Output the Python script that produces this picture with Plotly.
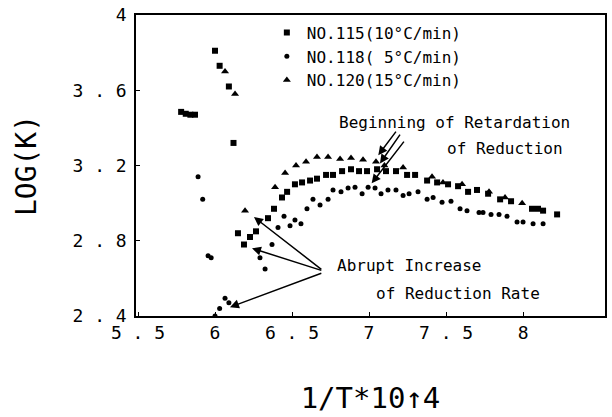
import plotly.graph_objects as go

# ---------------- data ----------------
x_no115 = [6.00, 6.03, 6.09, 5.78, 5.81, 5.84, 5.87, 6.12,
           6.149, 6.188, 6.227, 6.266, 6.344, 6.383, 6.435, 6.468, 6.519, 6.565,
           6.617, 6.662, 6.721, 6.766, 6.825, 6.883, 6.935, 6.987, 7.052, 7.110,
           7.175, 7.247, 7.299, 7.377, 7.442, 7.513, 7.578, 7.643, 7.701, 7.773,
           7.851, 7.922, 8.058, 8.097, 8.130, 8.221]
y_no115 = [3.81, 3.73, 3.62, 3.485, 3.475, 3.47, 3.47, 3.32,
           2.84, 2.78, 2.82, 2.85, 2.92, 2.97, 3.03, 3.06, 3.10, 3.11,
           3.12, 3.13, 3.15, 3.15, 3.17, 3.18, 3.17, 3.17, 3.18, 3.17,
           3.17, 3.15, 3.15, 3.12, 3.11, 3.10, 3.09, 3.06, 3.07, 3.05,
           3.02, 3.01, 2.97, 2.97, 2.96, 2.94]

x_no118 = [5.89, 5.92, 5.955, 5.975, 6.00, 6.03, 6.065, 6.09,
           6.292, 6.325, 6.37, 6.409, 6.448, 6.487, 6.519, 6.558, 6.597, 6.636,
           6.682, 6.734, 6.766, 6.818, 6.864, 6.909, 6.955, 6.994, 7.039, 7.078,
           7.123, 7.175, 7.221, 7.26, 7.318, 7.377, 7.416, 7.474, 7.532, 7.591,
           7.636, 7.714, 7.74, 7.792, 7.844, 7.896, 7.961, 8.0, 8.065, 8.13]
y_no118 = [3.14, 3.02, 2.72, 2.71, 2.40, 2.44, 2.495, 2.47,
           2.71, 2.65, 2.78, 2.87, 2.93, 2.88, 2.91, 2.89, 2.97, 3.02,
           2.99, 3.02, 3.07, 3.06, 3.08, 3.085, 3.05, 3.085, 3.08, 3.05,
           3.07, 3.07, 3.04, 3.05, 3.06, 3.02, 3.03, 3.005, 3.01, 2.97,
           2.96, 2.95, 2.95, 2.94, 2.94, 2.93, 2.90, 2.90, 2.89, 2.89]

x_no120 = [6.065, 6.13, 6.195, 6.39, 6.455, 6.526, 6.591, 6.662, 6.734, 6.812,
           6.883, 6.961, 7.045, 7.10, 7.221, 7.409, 7.48, 7.604, 7.779, 7.883, 7.994]
y_no120 = [3.70, 3.58, 2.96, 3.085, 3.16, 3.20, 3.22, 3.245, 3.245, 3.235,
           3.24, 3.23, 3.22, 3.20, 3.19, 3.14, 3.11, 3.10, 3.06, 3.03, 3.00]

series_names = ["NO.115(10°C/min)", "NO.118( 5°C/min)", "NO.120(15°C/min)"]

x_tickvals = [5.5, 6, 6.5, 7, 7.5, 8]
x_ticktext = ["5 . 5", "6", "6 . 5", "7", "7 . 5", "8"]
y_tickvals = [2.4, 2.8, 3.2, 3.6, 4.0]
y_ticktext = ["2 . 4", "2 . 8", "3 . 2", "3 . 6", "4"]

# annotation arrows: (head_x, head_y, tail_x, tail_y)
abrupt_arrows = [(6.253, 2.926, 6.70, 2.642),
                 (6.240, 2.760, 6.70, 2.640),
                 (6.097, 2.447, 6.70, 2.630)]
retard_arrows = [(7.060, 3.255, 7.182, 3.388),
                 (7.071, 3.211, 7.208, 3.372),
                 (7.017, 3.105, 7.234, 3.335)]

FONT = "DejaVu Sans Mono"

fig = go.Figure()
fig.add_trace(go.Scatter(x=x_no115, y=y_no115, mode="markers", name=series_names[0],
                         marker=dict(symbol="square", size=6, color="black")))
fig.add_trace(go.Scatter(x=x_no118, y=y_no118, mode="markers", name=series_names[1],
                         marker=dict(symbol="circle", size=5, color="black")))
fig.add_trace(go.Scatter(x=x_no120, y=y_no120, mode="markers", name=series_names[2],
                         marker=dict(symbol="triangle-up", size=7, color="black")))

for hx, hy, tx, ty in abrupt_arrows + retard_arrows:
    fig.add_annotation(x=hx, y=hy, ax=tx, ay=ty, xref="x", yref="y", axref="x", ayref="y",
                       text="", showarrow=True, arrowhead=2, arrowsize=1.2,
                       arrowwidth=1.5, arrowcolor="black", standoff=0, startstandoff=0)

texts = [("Beginning of Retardation", 6.792, 3.431),
         ("of Reduction", 7.494, 3.293),
         ("Abrupt Increase", 6.779, 2.670),
         ("of Reduction Rate", 7.030, 2.521)]
for t, tx, ty in texts:
    fig.add_annotation(x=tx, y=ty, xref="x", yref="y", text=t, showarrow=False,
                       xanchor="left", yanchor="middle",
                       font=dict(family=FONT, size=16, color="black"))

fig.update_layout(
    template="none",
    width=612, height=417,
    margin=dict(l=136, r=7, t=15, b=101),
    paper_bgcolor="white", plot_bgcolor="white",
    font=dict(family=FONT, color="black"),
    showlegend=True,
    legend=dict(x=0.279, y=0.998, xanchor="left", yanchor="top",
                bgcolor="rgba(0,0,0,0)", font=dict(family=FONT, size=16),
                tracegroupgap=0, itemsizing="trace"),
)
fig.update_xaxes(range=[5.487, 8.532], showline=True, mirror=True, linewidth=1.5,
                 linecolor="black", showgrid=False, zeroline=False, automargin=False,
                 ticks="inside", ticklen=4, tickcolor="black", ticklabeloverflow="allow",
                 tickvals=x_tickvals, ticktext=x_ticktext,
                 tickfont=dict(family=FONT, size=18),
                 title=dict(text="1/T*10↑4", font=dict(family=FONT, size=29), standoff=45))
fig.update_yaxes(range=[2.4, 4.0], showline=True, mirror=True, linewidth=1.5,
                 linecolor="black", showgrid=False, zeroline=False, automargin=False,
                 ticks="inside", ticklen=4, tickcolor="black", ticklabeloverflow="allow",
                 ticklabelstandoff=4,
                 tickvals=y_tickvals, ticktext=y_ticktext,
                 tickfont=dict(family=FONT, size=18),
                 title=dict(text="LOG(K)", font=dict(family=FONT, size=28), standoff=28))

# remove the browser's default 8px page margin so the figure fills the window exactly
fig.write_html("out.html", config={"displayModeBar": False},
               post_script="document.body.style.margin='0';")
